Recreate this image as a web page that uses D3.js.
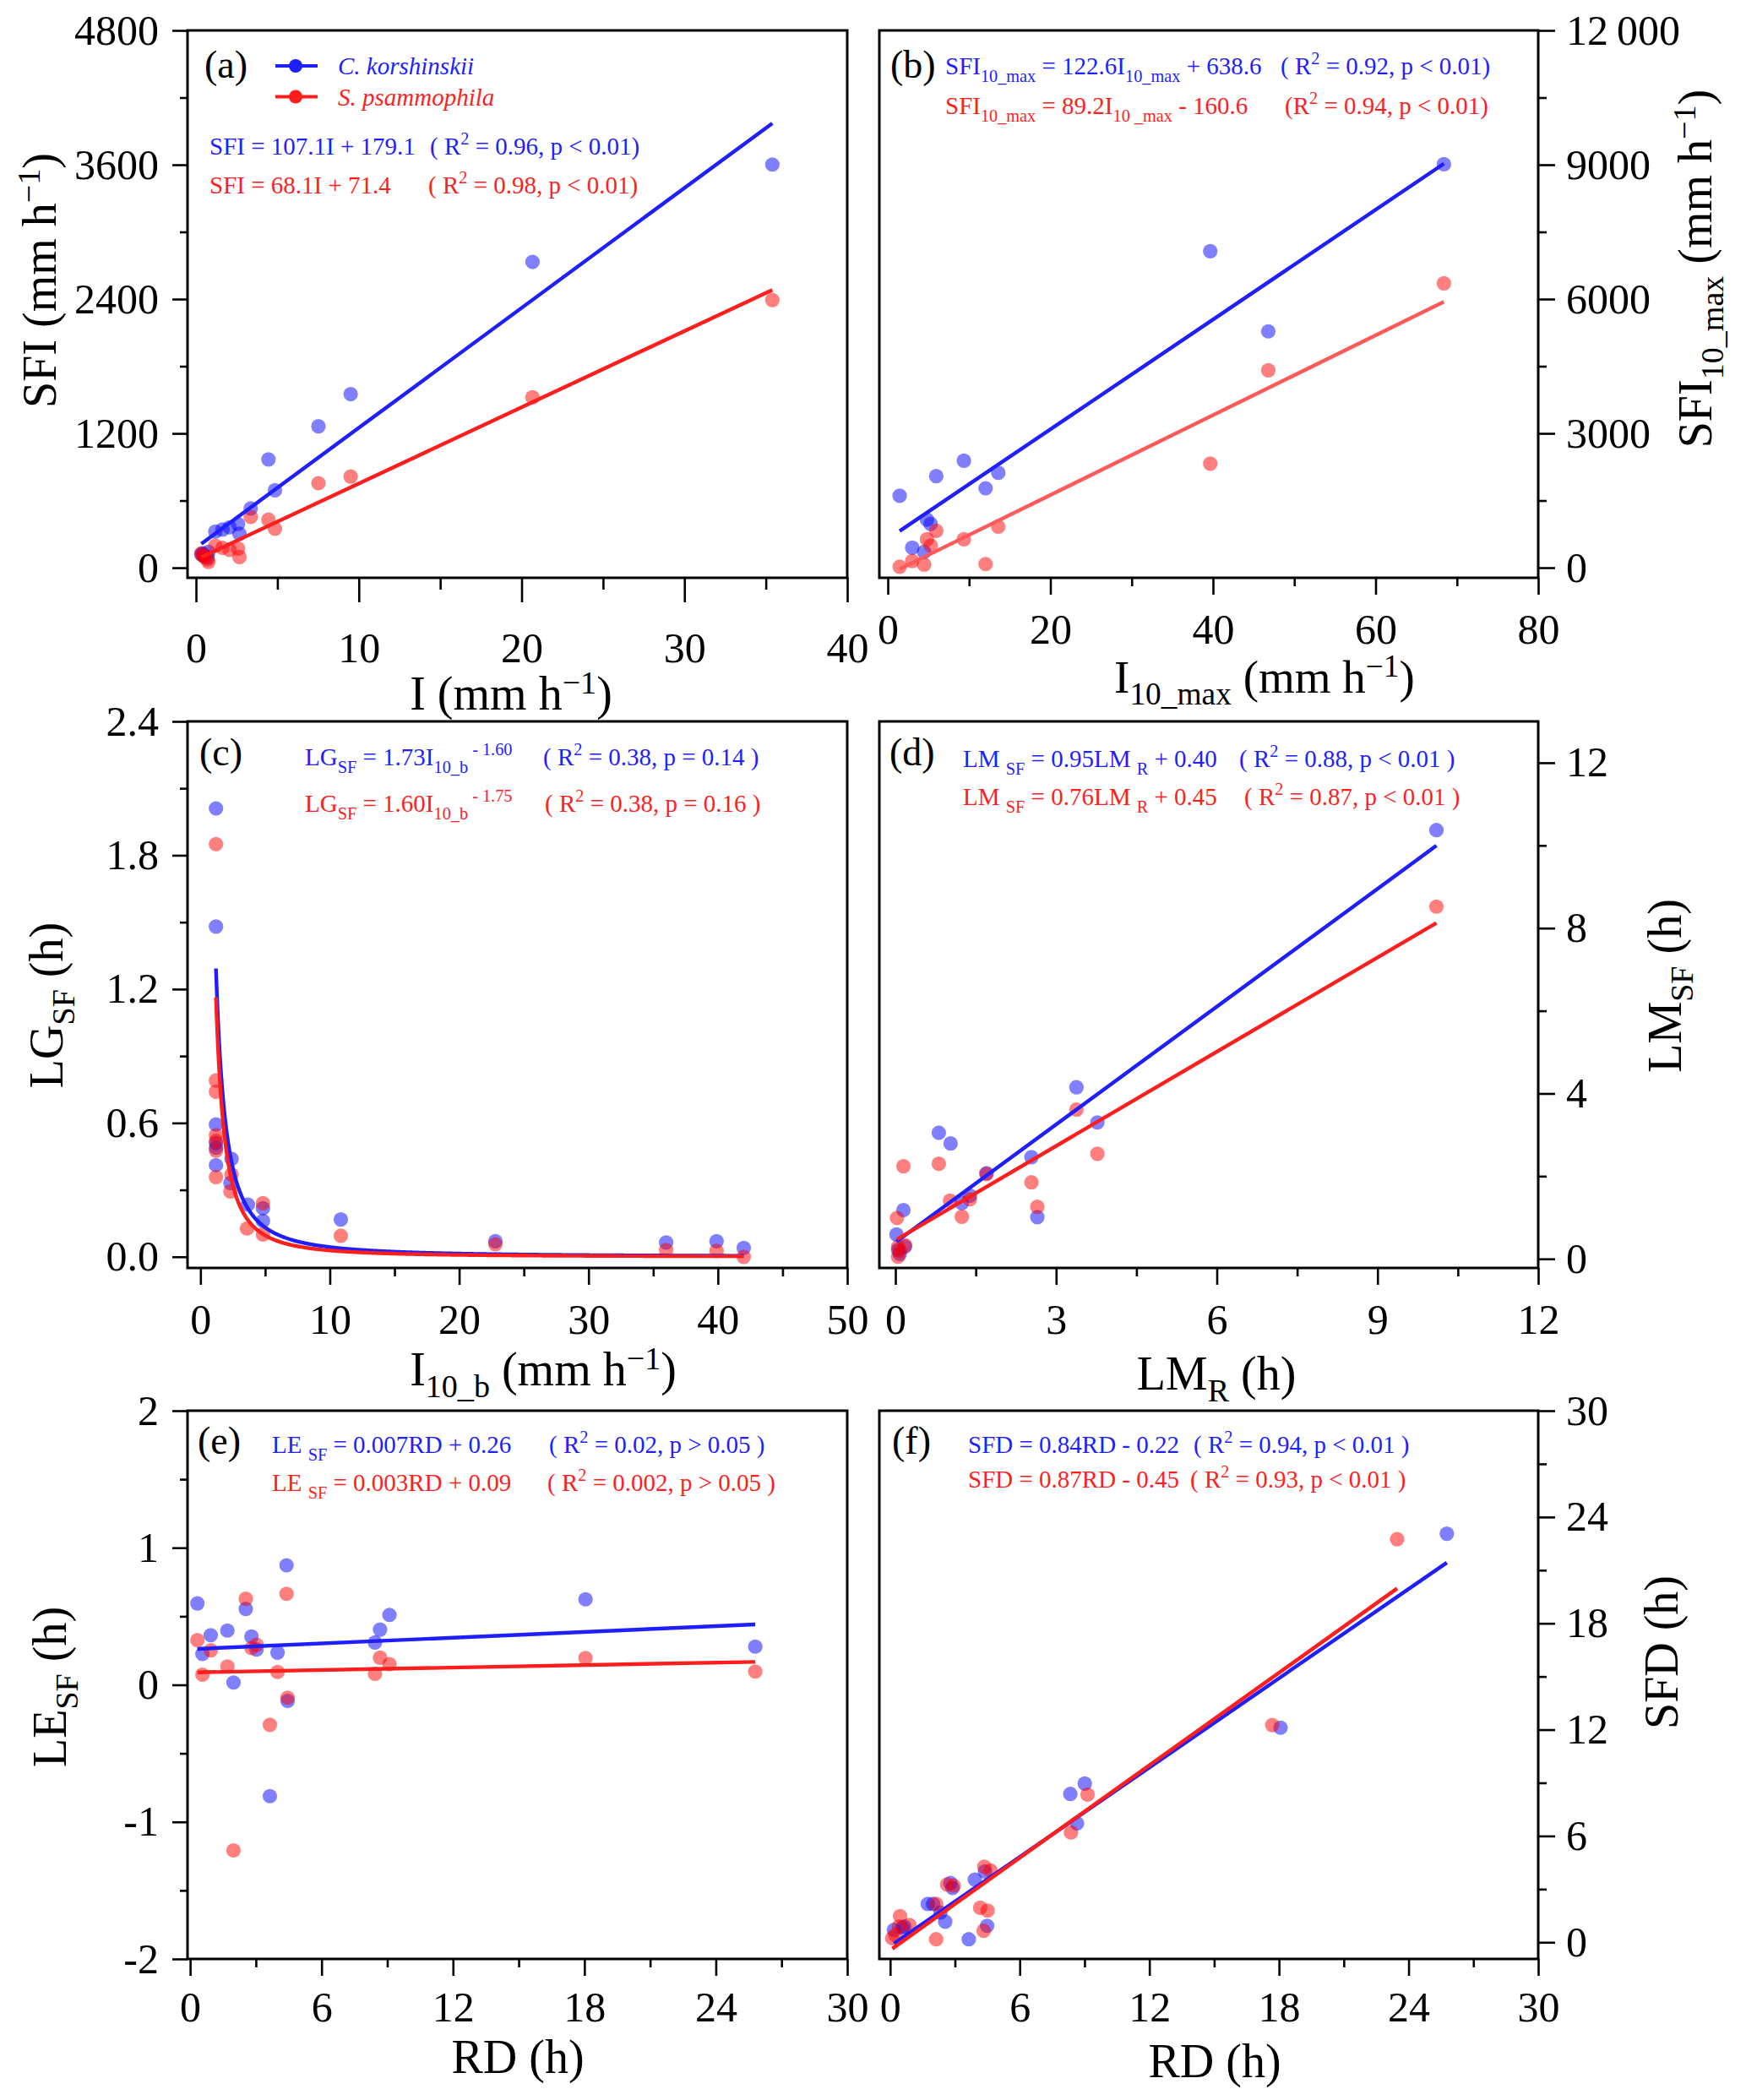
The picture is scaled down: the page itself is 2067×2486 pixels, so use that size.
<!DOCTYPE html>
<html>
<head>
<meta charset="utf-8">
<script src="https://cdn.jsdelivr.net/npm/d3@7"></script>
<style>
body { margin: 0; background: #fff; }
svg text { font-family: "Liberation Serif", "Times New Roman", serif; white-space: pre; }
</style>
</head>
<body>
<svg id="chart" width="2067" height="2486"></svg>
<script>
// ---------- data ----------
// (a) SFI vs I
var aI  = [0.33, 0.42, 0.50, 0.70, 0.76, 1.19, 1.63, 2.06, 2.58, 2.67, 3.36, 4.45, 4.85, 7.52, 9.50, 20.67, 35.40];
var aCK = [118, 128, 105, 92, 141, 323, 341, 361, 391, 303, 529, 968, 692, 1264, 1551, 2732, 3602];
var aSP = [128, 110, 100, 75, 53, 196, 178, 160, 171, 96, 454, 429, 348, 755, 815, 1522, 2392];

// (b) SFI10_max vs I10_max
var bI  = [1.46, 3.01, 4.47, 4.82, 5.27, 5.96, 9.36, 12.03, 13.59, 39.66, 46.80, 68.40];
var bCK = [1605, 446, 351, 1072, 978, 2044, 2389, 1774, 2120, 7069, 5279, 9013];
var bSP = [20, 150, 70, 634, 495, 822, 634, 81, 916, 2322, 4409, 6353];

// (c) LG_SF vs I10_b  [x, y]
var cCK = [[1.2,2.01],[1.2,1.48],[1.2,0.593],[1.2,0.51],[1.2,0.489],[1.2,0.411],[2.40,0.439],[2.32,0.331],
           [3.67,0.234],[4.83,0.218],[4.83,0.161],[10.85,0.167],[22.8,0.07],[36.0,0.064],[39.9,0.07],[42.0,0.04]];
var cSP = [[1.2,1.85],[1.2,0.79],[1.2,0.74],[1.2,0.545],[1.2,0.52],[1.2,0.476],[1.2,0.357],[2.40,0.369],
           [2.32,0.293],[3.6,0.127],[4.83,0.24],[4.83,0.10],[10.85,0.094],[22.8,0.056],[36.0,0.03],[39.9,0.026],[42.0,0.0]];

// (d) LM_SF vs LM_R  [x, y]
var dCK = [[0.02,0.59],[0.05,0.22],[0.08,0.12],[0.18,0.30],[0.15,1.18],[0.81,3.05],[1.03,2.79],[1.24,1.35],
           [1.39,1.53],[1.70,2.07],[2.54,2.46],[2.65,1.01],[3.38,4.15],[3.77,3.30],[10.10,10.37]];
var dSP = [[0.03,0.99],[0.05,0.29],[0.08,0.19],[0.05,0.05],[0.18,0.33],[0.15,2.24],[0.81,2.30],[1.02,1.41],
           [1.24,1.02],[1.39,1.44],[1.70,2.05],[2.54,1.85],[2.65,1.26],[3.38,3.61],[3.77,2.54],[10.10,8.52]];

// (e) LE_SF vs RD
var eRD = [0.33, 0.56, 0.94, 1.70, 1.98, 2.54, 2.80, 3.03, 3.64, 3.99, 4.40, 4.45, 8.44, 8.67, 9.10, 18.05, 25.80];
var eCK = [0.594, 0.225, 0.362, 0.396, 0.017, 0.554, 0.352, 0.258, -0.812, 0.235, 0.872, -0.117, 0.309, 0.403, 0.51, 0.624, 0.279];
var eSP = [0.326, 0.074, 0.252, 0.134, -1.208, 0.628, 0.268, 0.292, -0.292, 0.094, 0.664, -0.094, 0.08, 0.198, 0.151, 0.195, 0.097];

// (f) SFD vs RD  [x, y]
var fCK = [[0.18,0.70],[0.57,0.83],[0.66,0.89],[1.74,2.16],[1.99,2.16],[2.33,1.68],[2.55,1.16],[2.79,3.34],[2.89,3.07],
           [3.64,0.17],[3.92,3.54],[4.39,4.00],[4.49,0.93],[8.34,8.37],[8.65,6.71],[9.01,8.96],[18.07,12.11],[25.77,23.06]];
var fSP = [[0.10,0.23],[0.24,0.41],[0.41,0.89],[0.46,1.47],[0.89,0.97],[2.13,2.16],[2.13,0.17],[2.64,3.26],[2.94,3.20],
           [4.17,1.95],[4.33,0.65],[4.36,4.26],[4.51,1.79],[4.65,4.05],[8.37,6.20],[9.14,8.34],[17.69,12.26],[23.47,22.75]];

// fitted models [C. korshinskii, S. psammophila]
var aFit = [[107.1, 179.1], [68.1, 71.4]];
var bFit = [[122.6, 638.6], [89.2, -160.6]];
var cFit = [[1.73, -1.60], [1.60, -1.75]];   // y = a * x^b
var dFit = [[0.95, 0.40], [0.76, 0.45]];
var eFit = [[0.007, 0.26], [0.003, 0.09]];
var fFit = [[0.84, -0.22], [0.87, -0.45]];

var species = ['C. korshinskii', 'S. psammophila'];

// ---------- drawing ----------
var svg = d3.select('#chart');
svg.append('rect').attr('width', 2067).attr('height', 2486).attr('fill', '#fff');

var BLUE = '#1e1eff', RED = '#ff1e1e';
var zip = function(xs, ys) { return xs.map(function(v, i) { return [v, ys[i]]; }); };
var lin = function(f) { return function(x) { return f[0] * x + f[1]; }; };
var pow = function(f) { return function(x) { return f[0] * Math.pow(x, f[1]); }; };
var hy = function(d) { return d < 0 ? '-' + Math.abs(d) : String(d); };

// text with sub / superscript pieces
function rich(sel, parts, fs, o) {
  var cur = 0;
  parts.forEach(function(p) {
    var t = typeof p === 'string' ? { t: p } : p;
    var off = t.sub ? o.sub * fs : (t.sup ? -o.sup * fs : 0);
    sel.append('tspan')
      .attr('dy', off - cur)
      .attr('font-size', (t.sub || t.sup) ? fs * o.k : fs)
      .text(t.t);
    cur = off;
  });
}
function label(x, y, parts, fs, opt) {
  opt = opt || {};
  var t = svg.append('text')
    .attr('fill', opt.color || '#000')
    .attr('font-size', fs)
    .attr('text-anchor', opt.anchor || 'start');
  if (opt.italic) t.attr('font-style', 'italic');
  if (opt.rot) t.attr('transform', 'translate(' + x + ',' + y + ') rotate(-90)');
  else t.attr('x', x).attr('y', y);
  rich(t, parts, fs, opt.title ? { sub: 0.25, sup: 0.34, k: 0.68 } : { sub: 0.3, sup: 0.42, k: 0.7 });
  return t;
}
var mmh = function(pre) { return pre.concat([' (mm h', { t: '\u22121', sup: 1 }, ')']); };

function panel(p) {
  var x = d3.scaleLinear().domain(p.xDom).range([p.box[0], p.box[2]]);
  var y = d3.scaleLinear().domain(p.yDom).range([p.box[3], p.box[1]]);
  var g = svg.append('g');

  function styleAxis(a) {
    a.select('.domain').remove();
    a.attr('font-family', '"Liberation Serif", "Times New Roman", serif').attr('font-size', 50);
    a.selectAll('line').attr('stroke', '#000').attr('stroke-width', 2.6);
    a.selectAll('text').attr('fill', '#000');
  }
  // x axis
  g.append('g').attr('transform', 'translate(0,' + p.box[3] + ')')
    .call(d3.axisBottom(x).tickValues(p.xMaj).tickSize(p.xt[0]).tickPadding(p.xt[2]).tickFormat(d3.format('d')))
    .call(styleAxis);
  g.append('g').attr('transform', 'translate(0,' + p.box[3] + ')')
    .call(d3.axisBottom(x).tickValues(p.xMin).tickSize(p.xt[1]).tickFormat(''))
    .call(styleAxis);
  // y axis
  var side = p.right ? d3.axisRight : d3.axisLeft;
  var yx = p.right ? p.box[2] : p.box[0];
  g.append('g').attr('transform', 'translate(' + yx + ',0)')
    .call(side(y).tickValues(p.yMaj).tickSize(p.yt[0]).tickPadding(p.yt[2]).tickFormat(p.yFmt))
    .call(styleAxis);
  g.append('g').attr('transform', 'translate(' + yx + ',0)')
    .call(side(y).tickValues(p.yMin).tickSize(p.yt[1]).tickFormat(''))
    .call(styleAxis);

  // points
  p.series.forEach(function(s, i) {
    g.append('g').selectAll('circle').data(s.pts).join('circle')
      .attr('cx', function(d) { return x(d[0]); })
      .attr('cy', function(d) { return y(d[1]); })
      .attr('r', 8.6)
      .attr('fill', i === 0 ? '#0000ff' : '#ff0000')
      .attr('fill-opacity', 0.5);
  });
  // fitted lines / curves
  var line = d3.line().x(function(d) { return x(d[0]); }).y(function(d) { return y(d[1]); });
  p.series.forEach(function(s, i) {
    var ext = d3.extent(s.pts, function(d) { return d[0]; });
    var xs = s.curve ? d3.range(ext[0], ext[1], 0.05).concat([ext[1]]) : ext;
    g.append('path')
      .attr('d', line(xs.map(function(v) { return [v, s.fn(v)]; })))
      .attr('fill', 'none')
      .attr('stroke', s.lineColor || (i === 0 ? BLUE : RED))
      .attr('stroke-width', 4.4);
  });
  // frame
  g.append('rect')
    .attr('x', p.box[0]).attr('y', p.box[1])
    .attr('width', p.box[2] - p.box[0]).attr('height', p.box[3] - p.box[1])
    .attr('fill', 'none').attr('stroke', '#000').attr('stroke-width', 3);
}

// panel (a)
panel({
  box: [222, 36, 1003, 684], xDom: [-0.52, 40], yDom: [-90, 4800],
  xMaj: d3.range(0, 41, 10), xMin: d3.range(5, 40, 10), xt: [29, 14, 35],
  yMaj: d3.range(0, 4801, 1200), yMin: d3.range(600, 4800, 1200), yt: [18, 9, 16], yFmt: hy,
  series: [
    { pts: zip(aI, aCK), fn: lin(aFit[0]) },
    { pts: zip(aI, aSP), fn: lin(aFit[1]) }
  ]
});
// panel (b)
panel({
  box: [1041, 36, 1821, 684], xDom: [-1.04, 80], yDom: [-226, 12000], right: true,
  xMaj: d3.range(0, 81, 20), xMin: d3.range(10, 80, 20), xt: [20, 10, 22],
  yMaj: d3.range(0, 12001, 3000), yMin: d3.range(1500, 12000, 3000), yt: [20, 10, 13],
  yFmt: function(d) { return d >= 10000 ? d3.format(',')(d).replace(/,/g, '\u2009') : String(d); },
  series: [
    { pts: zip(bI, bCK), fn: lin(bFit[0]) },
    { pts: zip(bI, bSP), fn: lin(bFit[1]), lineColor: '#ff5a5a' }
  ]
});
// panel (c)
panel({
  box: [222, 854, 1003, 1501], xDom: [-1, 50], yDom: [-0.05, 2.4],
  xMaj: d3.range(0, 51, 10), xMin: d3.range(5, 50, 10), xt: [20, 10, 22],
  yMaj: [0, 0.6, 1.2, 1.8, 2.4], yMin: [0.3, 0.9, 1.5, 2.1], yt: [18, 9, 16], yFmt: d3.format('.1f'),
  series: [
    { pts: cCK, fn: pow(cFit[0]), curve: true },
    { pts: cSP, fn: pow(cFit[1]), curve: true }
  ]
});
// panel (d)
panel({
  box: [1041, 854, 1821, 1501], xDom: [-0.3, 12], yDom: [-0.22, 13], right: true,
  xMaj: d3.range(0, 13, 3), xMin: [1.5, 4.5, 7.5, 10.5], xt: [20, 10, 22],
  yMaj: [0, 4, 8, 12], yMin: [2, 6, 10], yt: [20, 10, 13], yFmt: hy,
  series: [
    { pts: dCK, fn: lin(dFit[0]) },
    { pts: dSP, fn: lin(dFit[1]) }
  ]
});
// panel (e)
panel({
  box: [222, 1670, 1003, 2319], xDom: [-0.12, 30], yDom: [-2, 2],
  xMaj: d3.range(0, 31, 6), xMin: d3.range(3, 30, 6), xt: [20, 10, 18],
  yMaj: [-2, -1, 0, 1, 2], yMin: [-1.5, -0.5, 0.5, 1.5], yt: [18, 9, 16], yFmt: hy,
  series: [
    { pts: zip(eRD, eCK), fn: lin(eFit[0]) },
    { pts: zip(eRD, eSP), fn: lin(eFit[1]) }
  ]
});
// panel (f)
panel({
  box: [1041, 1670, 1821, 2319], xDom: [-0.5, 30], yDom: [-0.94, 30], right: true,
  xMaj: d3.range(0, 31, 6), xMin: d3.range(3, 30, 6), xt: [20, 10, 18],
  yMaj: d3.range(0, 31, 6), yMin: d3.range(3, 30, 6), yt: [20, 10, 13], yFmt: hy,
  series: [
    { pts: fCK, fn: lin(fFit[0]) },
    { pts: fSP, fn: lin(fFit[1]) }
  ]
});

// panel letters
[['(a)', 242, 92], ['(b)', 1054, 92], ['(c)', 236, 906], ['(d)', 1053, 906], ['(e)', 234, 1721], ['(f)', 1056, 1721]]
  .forEach(function(d) { label(d[1], d[2], [d[0]], 46); });

// legend in (a)
species.forEach(function(name, i) {
  var yy = 78 + i * 36.5, col = i === 0 ? BLUE : RED;
  svg.append('line').attr('x1', 326).attr('x2', 376).attr('y1', yy).attr('y2', yy)
    .attr('stroke', col).attr('stroke-width', 4);
  svg.append('circle').attr('cx', 350).attr('cy', yy).attr('r', 8).attr('fill', col);
  label(400, yy + 10, [name], 29, { color: col, italic: true });
});

// equations
var R2 = function(pre, rest) { return [pre + 'R', { t: '2', sup: 1 }, rest]; };
var eqs = [
  [248, 183, ['SFI = 107.1I + 179.1'], 509, R2('( ', ' = 0.96, p < 0.01)'), BLUE],
  [248, 229, ['SFI = 68.1I + 71.4'], 507, R2('( ', ' = 0.98, p < 0.01)'), RED],
  [1119, 88, ['SFI', { t: '10_max', sub: 1 }, ' = 122.6I', { t: '10_max', sub: 1 }, ' + 638.6'], 1516, R2('( ', ' = 0.92, p < 0.01)'), BLUE],
  [1119, 135, ['SFI', { t: '10_max', sub: 1 }, ' = 89.2I', { t: '10 _max', sub: 1 }, ' - 160.6'], 1521, R2('(', ' = 0.94, p < 0.01)'), RED],
  [361, 906, ['LG', { t: 'SF', sub: 1 }, ' = 1.73I', { t: '10_b', sub: 1 }, { t: ' - 1.60', sup: 1 }], 643, R2('( ', ' = 0.38, p = 0.14 )'), BLUE],
  [361, 961, ['LG', { t: 'SF', sub: 1 }, ' = 1.60I', { t: '10_b', sub: 1 }, { t: ' - 1.75', sup: 1 }], 645, R2('( ', ' = 0.38, p = 0.16 )'), RED],
  [1140, 908, ['LM ', { t: 'SF', sub: 1 }, ' = 0.95LM ', { t: 'R', sub: 1 }, ' + 0.40'], 1467, R2('( ', ' = 0.88, p < 0.01 )'), BLUE],
  [1140, 953, ['LM ', { t: 'SF', sub: 1 }, ' = 0.76LM ', { t: 'R', sub: 1 }, ' + 0.45'], 1473, R2('( ', ' = 0.87, p < 0.01 )'), RED],
  [322, 1720, ['LE ', { t: 'SF', sub: 1 }, ' = 0.007RD + 0.26'], 650, R2('( ', ' = 0.02, p > 0.05 )'), BLUE],
  [322, 1765, ['LE ', { t: 'SF', sub: 1 }, ' = 0.003RD + 0.09'], 648, R2('( ', ' = 0.002, p > 0.05 )'), RED],
  [1146, 1720, ['SFD = 0.84RD - 0.22'], 1413, R2('( ', ' = 0.94, p < 0.01 )'), BLUE],
  [1146, 1761, ['SFD = 0.87RD - 0.45'], 1409, R2('( ', ' = 0.93, p < 0.01 )'), RED]
];
eqs.forEach(function(e) {
  label(e[0], e[1], e[2], 29, { color: e[5] });
  label(e[3], e[1], e[4], 29, { color: e[5] });
});

// axis titles
var TF = 56;
label(66, 332, mmh(['SFI']), TF, { anchor: 'middle', rot: 1, title: 1 });
label(605, 840, mmh(['I']), TF, { anchor: 'middle', title: 1 });
label(1497, 820, mmh(['I', { t: '10_max', sub: 1 }]), 55, { anchor: 'middle', title: 1 });
label(2026, 318, mmh(['SFI', { t: '10_max', sub: 1 }]), TF, { anchor: 'middle', rot: 1, title: 1 });
label(74, 1190, ['LG', { t: 'SF', sub: 1 }, ' (h)'], TF, { anchor: 'middle', rot: 1, title: 1 });
label(643, 1640, mmh(['I', { t: '10_b', sub: 1 }]), TF, { anchor: 'middle', title: 1 });
label(1440, 1645, ['LM', { t: 'R', sub: 1 }, ' (h)'], TF, { anchor: 'middle', title: 1 });
label(1990, 1167, ['LM', { t: 'SF', sub: 1 }, ' (h)'], TF, { anchor: 'middle', rot: 1, title: 1 });
label(78, 1997, ['LE', { t: 'SF', sub: 1 }, ' (h)'], TF, { anchor: 'middle', rot: 1, title: 1 });
label(613, 2454, ['RD (h)'], TF, { anchor: 'middle', title: 1 });
label(1438, 2459, ['RD (h)'], TF, { anchor: 'middle', title: 1 });
label(1986, 1956, ['SFD (h)'], TF, { anchor: 'middle', rot: 1, title: 1 });
</script>
</body>
</html>
